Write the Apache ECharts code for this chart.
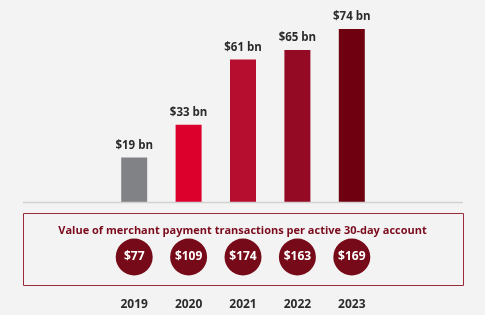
<!DOCTYPE html>
<html>
<head>
<meta charset="utf-8">
<script src="https://cdn.jsdelivr.net/npm/echarts@6/dist/echarts.min.js"></script>
<style>
html,body{margin:0;padding:0;background:#f4f3f4;}
#chart{width:485px;height:315px;}
</style>
</head>
<body>
<div id="chart"></div>
<script>
// 年份
var years = ['2019', '2020', '2021', '2022', '2023'];
// 商户支付总额 (十亿美元)
var totals = [19, 33, 61, 65, 74];
// 每个活跃账户的交易额
var perAccount = [77, 109, 174, 163, 169];
var barColors = ['#808285', '#dc002d', '#b50e2e', '#940a24', '#6e0010'];

var font = 'Open Sans';
var myChart = echarts.init(document.getElementById('chart'));

var option = {
    backgroundColor: '#f4f3f4',
    animation: false,
    title: {
        text: 'Value of merchant payment transactions per active 30-day account',
        left: 'center',
        top: 220,
        textStyle: {color: '#7a0a1c', fontSize: 11, fontWeight: 'bold', fontFamily: font}
    },
    grid: [
        {left: 107, width: 272, top: 15, height: 187},
        {left: 107, width: 272, top: 240, height: 34}
    ],
    xAxis: [
        {
            gridIndex: 0, type: 'category', data: years,
            axisLine: {show: false}, axisTick: {show: false}, axisLabel: {show: false}
        },
        {
            gridIndex: 1, type: 'category', data: years,
            axisLine: {show: false}, axisTick: {show: false},
            axisLabel: {margin: 25, color: '#2b2b2b', fontSize: 12, fontWeight: 'bold', fontFamily: font}
        }
    ],
    yAxis: [
        {gridIndex: 0, type: 'value', min: 0, max: 80, show: false},
        {gridIndex: 1, type: 'value', min: -1, max: 1, show: false}
    ],
    graphic: [
        {
            type: 'line', shape: {x1: 23, y1: 202.5, x2: 463, y2: 202.5},
            style: {stroke: '#d2d2d2', lineWidth: 1.5}, z: 10
        },
        {
            type: 'rect', shape: {x: 23.5, y: 213.5, width: 440, height: 72},
            style: {fill: null, stroke: '#9a2a3a', lineWidth: 1}
        }
    ],
    series: [
        {
            type: 'bar',
            xAxisIndex: 0, yAxisIndex: 0,
            barWidth: 26,
            data: totals.map(function(v, i){
                return {value: v, itemStyle: {color: barColors[i]}};
            }),
            label: {
                show: true, position: 'top', distance: 6,
                formatter: function(p){ return '$' + p.value + ' bn'; },
                color: '#2b2b2b', fontSize: 11.5, fontWeight: 'bold', fontFamily: font
            }
        },
        {
            type: 'scatter',
            xAxisIndex: 1, yAxisIndex: 1,
            symbolSize: 37,
            itemStyle: {color: '#760a18', opacity: 1},
            data: perAccount.map(function(v, i){ return [i, 0, v]; }),
            label: {
                show: true, position: 'inside',
                formatter: function(p){ return '$' + p.data[2]; },
                color: '#fff', fontSize: 12, fontWeight: 'bold', fontFamily: font
            }
        }
    ]
};
myChart.setOption(option);
</script>
</body>
</html>
